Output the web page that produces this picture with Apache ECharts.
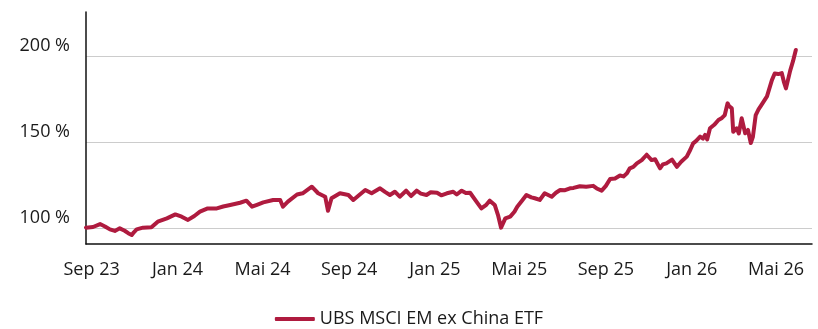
<!DOCTYPE html>
<html>
<head>
<meta charset="utf-8">
<style>
  html, body { margin: 0; padding: 0; background: #fff; }
  #chart { width: 818px; height: 329px; }
</style>
<script src="https://cdn.jsdelivr.net/npm/echarts@6/dist/echarts.min.js"></script>
</head>
<body>
<div id="chart"></div>
<script>
// Wertentwicklung in Prozent (Start = 100 %)
const seriesName = 'UBS MSCI EM ex China ETF';

const dates = [
  '2023-08-24','2023-09-03','2023-09-13','2023-09-20','2023-09-27','2023-10-04','2023-10-11','2023-10-18',
  '2023-10-23','2023-10-28','2023-10-31','2023-11-04','2023-11-13','2023-11-25','2023-12-04','2023-12-17',
  '2023-12-29','2024-01-07','2024-01-16','2024-01-25','2024-02-02','2024-02-13','2024-02-26','2024-03-06',
  '2024-03-16','2024-03-30','2024-04-08','2024-04-16','2024-04-23','2024-05-02','2024-05-16','2024-05-26',
  '2024-05-30','2024-06-06','2024-06-19','2024-06-27','2024-07-10','2024-07-19','2024-07-29','2024-08-02',
  '2024-08-07','2024-08-19','2024-08-31','2024-09-07','2024-09-15','2024-09-24','2024-10-03','2024-10-15',
  '2024-10-22','2024-10-29','2024-11-05','2024-11-12','2024-11-21','2024-11-28','2024-12-06','2024-12-12',
  '2024-12-20','2024-12-26','2025-01-04','2025-01-10','2025-01-18','2025-01-27','2025-02-01','2025-02-08',
  '2025-02-14','2025-02-20','2025-03-01','2025-03-08','2025-03-15','2025-03-20','2025-03-27','2025-04-01',
  '2025-04-05','2025-04-11','2025-04-18','2025-04-24','2025-04-28','2025-05-05','2025-05-11','2025-05-18',
  '2025-05-23','2025-05-30','2025-06-06','2025-06-16','2025-06-22','2025-06-28','2025-07-05','2025-07-12',
  '2025-07-17','2025-07-26','2025-08-04','2025-08-14','2025-08-19','2025-08-26','2025-09-01','2025-09-07',
  '2025-09-14','2025-09-21','2025-09-26','2025-10-01','2025-10-05','2025-10-10','2025-10-15','2025-10-22',
  '2025-10-29','2025-11-05','2025-11-10','2025-11-17','2025-11-21','2025-11-26','2025-12-04','2025-12-11',
  '2025-12-17','2025-12-25','2025-12-30','2026-01-03','2026-01-07','2026-01-13','2026-01-17','2026-01-20',
  '2026-01-23','2026-01-27','2026-02-02','2026-02-08','2026-02-13','2026-02-17','2026-02-21','2026-02-23',
  '2026-02-27','2026-03-01','2026-03-06','2026-03-09','2026-03-13','2026-03-18','2026-03-22','2026-03-26',
  '2026-03-29','2026-04-02','2026-04-06','2026-04-10','2026-04-18','2026-04-25','2026-04-29','2026-05-04',
  '2026-05-09','2026-05-12','2026-05-15','2026-05-21','2026-05-25','2026-05-29'
];

const values = [
  100.2, 100.6, 102.3, 100.9, 99.2, 98.3, 99.8, 98.4,
  97.0, 95.9, 97.5, 99.2, 100.2, 100.4, 103.7, 105.6,
  107.9, 106.6, 104.7, 107.0, 109.5, 111.4, 111.4, 112.5,
  113.4, 114.7, 115.9, 112.4, 113.5, 114.9, 116.3, 116.3,
  112.4, 115.3, 119.5, 120.2, 124.0, 120.2, 118.2, 110.0,
  117.3, 120.2, 119.2, 116.3, 119.0, 122.1, 120.2, 123.1,
  121.0, 119.2, 121.1, 118.2, 121.7, 118.6, 121.7, 120.0,
  119.2, 120.8, 120.5, 119.0, 120.2, 121.1, 119.5, 121.7,
  120.3, 120.5, 115.3, 111.4, 113.5, 115.9, 113.4, 107.0,
  100.2, 105.6, 106.6, 109.5, 112.4, 116.0, 119.2, 117.8,
  117.3, 116.3, 120.2, 118.2, 120.5, 122.1, 122.0, 123.1,
  123.3, 124.3, 124.0, 124.5, 123.0, 121.7, 124.5, 128.5,
  128.8, 130.5, 130.0, 131.8, 134.7, 135.5, 137.6, 139.5,
  142.6, 139.5, 140.0, 134.7, 137.0, 137.6, 139.8, 135.6,
  138.5, 141.5, 145.5, 149.2, 150.5, 153.1, 152.0, 154.1,
  151.5, 158.0, 160.0, 162.8, 164.0, 165.7, 172.5, 171.0,
  169.6, 156.0, 158.0, 155.0, 163.8, 155.1, 157.0, 149.4,
  153.0, 165.7, 169.0, 171.5, 176.5, 186.0, 189.8, 189.5,
  190.1, 185.0, 181.2, 191.5, 197.0, 203.5
];

// Achsenbeschriftungen
const yTicks = [100, 150, 200];
const xTicks = ['2023-09-01','2024-01-01','2024-05-01','2024-09-01','2025-01-01','2025-05-01','2025-09-01','2026-01-01','2026-05-01'];
const xRange = ['2023-08-24', '2026-06-21'];
const monthNames = ['Jan','Feb','Mär','Apr','Mai','Jun','Jul','Aug','Sep','Okt','Nov','Dez'];

const toTime = s => { const p = s.split('-').map(Number); return Date.UTC(p[0], p[1] - 1, p[2]); };

const chart = echarts.init(document.getElementById('chart'), null, { renderer: 'canvas' });
const fontFamily = '"Open Sans", "Noto Sans", sans-serif';
const lineColor = '#AF1B3F';

chart.setOption({
  animation: false,
  backgroundColor: '#ffffff',
  grid: { left: 86, right: 6, top: 12, bottom: 85, containLabel: false },
  legend: {
    data: [seriesName],
    top: 305,
    left: 'center',
    icon: 'roundRect',
    itemWidth: 40,
    itemHeight: 4,
    textStyle: { color: '#1a1a1a', fontSize: 18, fontFamily: fontFamily }
  },
  xAxis: {
    type: 'value',
    min: toTime(xRange[0]),
    max: toTime(xRange[1]),
    axisLine: { show: true, lineStyle: { color: '#111', width: 1.5 } },
    axisTick: { show: false, customValues: xTicks.map(toTime) },
    splitLine: { show: false },
    axisLabel: {
      customValues: xTicks.map(toTime),
      margin: 17,
      color: '#1a1a1a',
      fontSize: 18,
      fontFamily: fontFamily,
      formatter: function (v) {
        const d = new Date(v);
        return monthNames[d.getUTCMonth()] + ' ' + String(d.getUTCFullYear()).slice(2);
      }
    }
  },
  yAxis: {
    type: 'value',
    min: 90.7,
    max: 225.6,
    axisLine: { show: true, lineStyle: { color: '#111', width: 1.5 } },
    axisTick: { show: false, customValues: yTicks },
    splitLine: { show: true, lineStyle: { color: '#cccccc', width: 1.2 } },
    axisLabel: {
      customValues: yTicks,
      margin: 16,
      color: '#1a1a1a',
      fontSize: 18,
      lineHeight: 18,
      verticalAlign: 'bottom',
      padding: [0, 0, 1, 0],
      fontFamily: fontFamily,
      formatter: '{value} %'
    }
  },
  series: [{
    name: seriesName,
    type: 'line',
    data: dates.map((d, i) => [toTime(d), values[i]]),
    showSymbol: false,
    symbol: 'none',
    smooth: false,
    lineStyle: { color: lineColor, width: 4, join: 'round', cap: 'round' },
    itemStyle: { color: lineColor }
  }]
});
</script>
</body>
</html>
